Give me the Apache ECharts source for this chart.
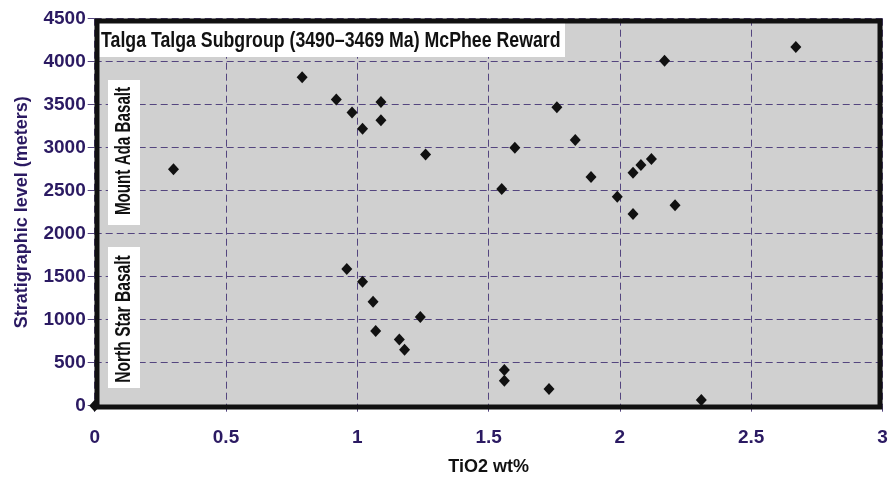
<!DOCTYPE html>
<html>
<head>
<meta charset="utf-8">
<script src="https://cdn.jsdelivr.net/npm/echarts@6/dist/echarts.min.js"></script>
<style>
  html, body { margin: 0; padding: 0; background: #ffffff; }
  #chart { width: 893px; height: 477px; }
</style>
</head>
<body>
<div id="chart"></div>
<script>
// TiO2 (wt%) against stratigraphic level (m), Talga Talga Subgroup, McPhee Reward
const mountAdaTiO2  = [0.30, 0.79, 0.92, 0.98, 1.09, 1.09, 1.02, 1.26, 1.55, 1.60, 1.76, 1.83, 1.89, 1.99, 2.05, 2.05, 2.08, 2.12, 2.17, 2.21, 2.67];
const mountAdaLevel = [2750, 3820, 3560, 3410, 3530, 3320, 3220, 2920, 2520, 3000, 3470, 3090, 2660, 2430, 2710, 2230, 2800, 2870, 4010, 2330, 4170];

const northStarTiO2  = [0.00, 0.96, 1.02, 1.06, 1.07, 1.16, 1.18, 1.24, 1.56, 1.56, 1.73, 2.31];
const northStarLevel = [0, 1590, 1440, 1210, 870, 770, 650, 1030, 415, 290, 195, 65];

const xTicks = { min: 0, max: 3, step: 0.5 };
const yTicks = { min: 0, max: 4500, step: 500 };

const titleText = 'Talga Talga Subgroup (3490\u20133469 Ma) McPhee Reward';
const unitNames = ['Mount Ada Basalt', 'North Star Basalt'];

const pairs = (xs, ys) => xs.map((x, i) => [x, ys[i]]);

const purple = '#2b1a62';
const gridColor = '#54457f';
const font = '"Liberation Sans", Arial, sans-serif';

const G = { left: 94.7, right: 10.5, top: 18.7, bottom: 71.3 };

const chart = echarts.init(document.getElementById('chart'), null, { renderer: 'canvas' });

const markerStyle = {
  type: 'scatter',
  symbol: 'diamond',
  symbolSize: [11, 12],
  itemStyle: { color: '#111111', opacity: 1 },
  z: 3
};

chart.setOption({
  animation: false,
  backgroundColor: '#ffffff',
  grid: {
    left: G.left, right: G.right, top: G.top, bottom: G.bottom,
    containLabel: false, outerBoundsMode: 'none',
    show: true, backgroundColor: '#d0d0d0', borderWidth: 0
  },
  xAxis: {
    type: 'value',
    min: xTicks.min, max: xTicks.max, interval: xTicks.step,
    name: 'TiO2 wt%',
    nameLocation: 'middle',
    nameGap: 52,
    nameTextStyle: { color: '#111111', fontWeight: 'bold', fontSize: 18, fontFamily: font },
    axisLine: { show: false },
    axisTick: { show: true, inside: false, length: 6, lineStyle: { color: gridColor, width: 1 } },
    axisLabel: { color: purple, fontWeight: 'bold', fontSize: 19, fontFamily: font, margin: 23,
                 formatter: v => String(v) },
    splitLine: { show: true, lineStyle: { color: gridColor, type: [7, 4], width: 1 } }
  },
  yAxis: {
    type: 'value',
    min: yTicks.min, max: yTicks.max, interval: yTicks.step,
    name: 'Stratigraphic level (meters)',
    nameLocation: 'middle',
    nameGap: 64,
    nameRotate: 90,
    nameTextStyle: { color: purple, fontWeight: 'bold', fontSize: 18, fontFamily: font },
    axisLine: { show: false },
    axisTick: { show: true, inside: false, length: 7, lineStyle: { color: gridColor, width: 1 } },
    axisLabel: { color: purple, fontWeight: 'bold', fontSize: 19, fontFamily: font, margin: 9,
                 formatter: v => String(v) },
    splitLine: { show: true, lineStyle: { color: gridColor, type: [7, 4], width: 1 } }
  },
  series: [
    Object.assign({ name: unitNames[0], data: pairs(mountAdaTiO2, mountAdaLevel) }, markerStyle),
    Object.assign({ name: unitNames[1], data: pairs(northStarTiO2, northStarLevel) }, markerStyle)
  ],
  graphic: [
    // title band
    { type: 'rect', z: 50, shape: { x: 99, y: 23, width: 466, height: 34 }, style: { fill: '#ffffff' } },
    { type: 'text', z: 51, x: 101, y: 40.5, scaleX: 0.806,
      style: { text: titleText, fill: '#111111', fontFamily: font, fontWeight: 'bold', fontSize: 22,
               align: 'left', verticalAlign: 'middle' } },
    // unit labels
    { type: 'rect', z: 50, shape: { x: 108, y: 80, width: 32, height: 145 }, style: { fill: '#ffffff' } },
    { type: 'text', z: 51, x: 124, y: 151, rotation: Math.PI / 2, scaleX: 0.69,
      style: { text: unitNames[0], fill: '#111111', fontFamily: font, fontWeight: 'bold', fontSize: 22,
               align: 'center', verticalAlign: 'middle' } },
    { type: 'rect', z: 50, shape: { x: 108, y: 247, width: 32, height: 141 }, style: { fill: '#ffffff' } },
    { type: 'text', z: 51, x: 124, y: 319, rotation: Math.PI / 2, scaleX: 0.71,
      style: { text: unitNames[1], fill: '#111111', fontFamily: font, fontWeight: 'bold', fontSize: 22,
               align: 'center', verticalAlign: 'middle' } },
    // heavy plot frame
    { type: 'rect', z: 60, shape: { x: 97, y: 21, width: 783, height: 386 },
      style: { fill: null, stroke: '#111111', lineWidth: 5 } }
  ]
});
</script>
</body>
</html>
